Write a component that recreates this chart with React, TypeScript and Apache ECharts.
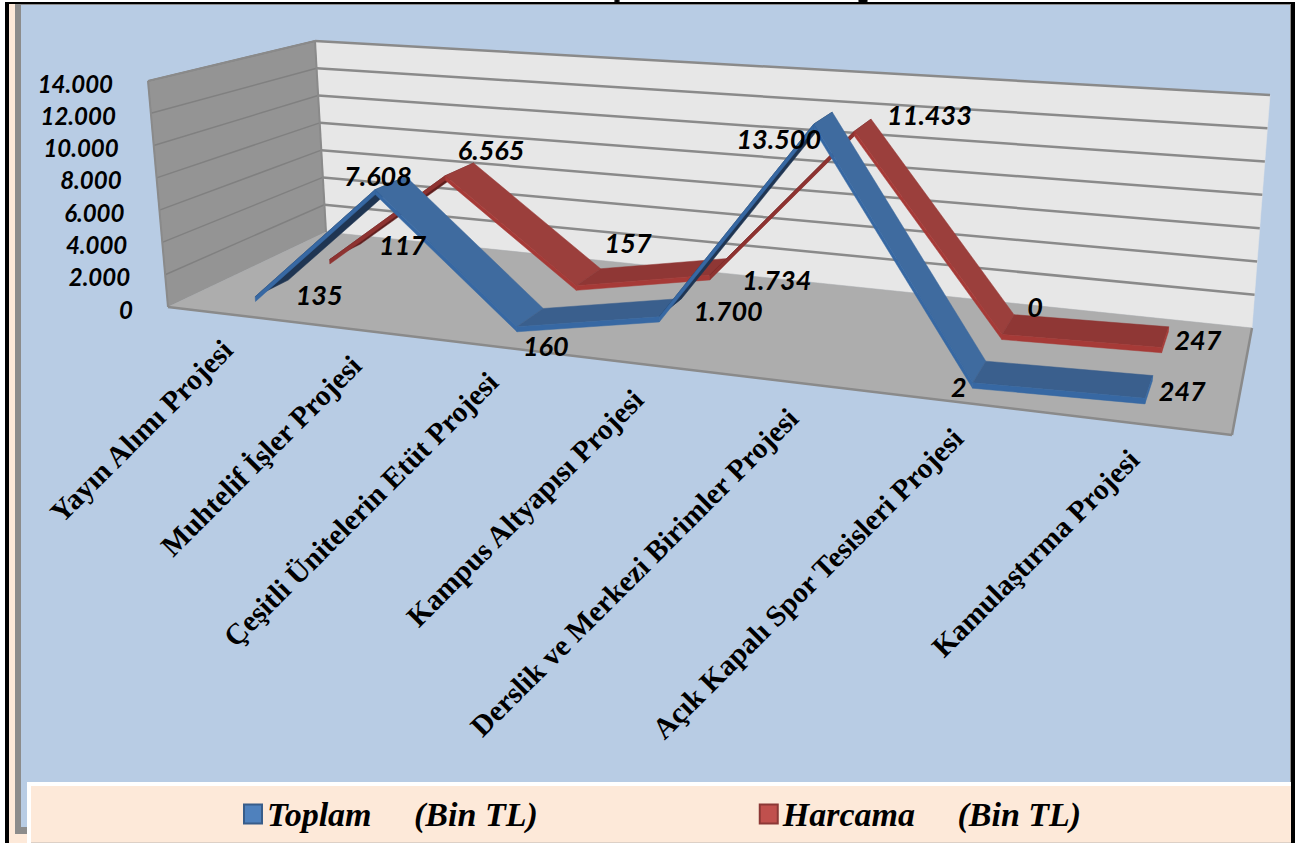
import React, { useEffect, useRef } from "react";
import * as echarts from "echarts";

const categories = [
  "Yayın Alımı Projesi",
  "Muhtelif İşler Projesi",
  "Çeşitli Ünitelerin Etüt Projesi",
  "Kampus Altyapısı Projesi",
  "Derslik ve Merkezi Birimler Projesi",
  "Açık Kapalı Spor Tesisleri Projesi",
  "Kamulaştırma Projesi",
];
const toplam = [135, 7608, 160, 1700, 13500, 2, 247];
const harcama = [117, 6565, 157, 1734, 11433, 0, 247];
const yTicks = [0, 2000, 4000, 6000, 8000, 10000, 12000, 14000];

const toplamLabelOffset = [[64, -2], [3, -14], [29, 19], [69, -6], [-35, 14], [-14, 4], [37, -8]];
const harcamaLabelOffset = [[73, -15], [46, -26], [52, -43], [67, 4], [75, -17], [33, -28], [36, -8]];

const GRID = { left: 100, top: 100, width: 700, height: 560 };
const THICK = 300;
const VALUE_FONT = "Lato";
const CAT_FONT = "Liberation Serif";

type P = number[];
function homography(p00: P, p10: P, p11: P, p01: P) {
  const [x0, y0] = p00, [x1, y1] = p10, [x2, y2] = p11, [x3, y3] = p01;
  const dx1 = x1 - x2, dx2 = x3 - x2, sx = x0 - x1 + x2 - x3;
  const dy1 = y1 - y2, dy2 = y3 - y2, sy = y0 - y1 + y2 - y3;
  const den = dx1 * dy2 - dx2 * dy1;
  const g = (sx * dy2 - dx2 * sy) / den;
  const h = (dx1 * sy - sx * dy1) / den;
  const a = x1 - x0 + g * x1, b = x3 - x0 + h * x3;
  const d = y1 - y0 + g * y1, e = y3 - y0 + h * y3;
  return (u: number, v: number): P => {
    const w = g * u + h * v + 1;
    return [(a * u + b * v + x0) / w, (d * u + e * v + y0) / w];
  };
}
const floorMap = homography([168, 307], [1232, 435], [1252, 328], [326, 232]);
const topMap = homography([148, 81], [1262, 158], [1270, 95], [315, 41]);
const FLOOR_WARP = 0.04;
const TOP_WARP = -0.005;
const COLUMN_SHIFT = 0.0055;

function project(fx: number, t: number, z: number): P {
  const f = floorMap(fx - FLOOR_WARP * fx * (1 - fx), z);
  const c = topMap(fx - TOP_WARP * fx * (1 - fx), z);
  return [f[0] + (c[0] - f[0]) * t, f[1] + (c[1] - f[1]) * t];
}
function projectValue(api: any, i: number, v: number, z: number): P {
  const c = api.coord([i, v]);
  const fx = (c[0] - GRID.left) / GRID.width;
  return project(fx - COLUMN_SHIFT * (1 - 0.9 * fx), (GRID.top + GRID.height - c[1]) / GRID.height, z);
}
function fmt(v: number): string {
  return String(v).replace(/\B(?=(\d{3})+(?!\d))/g, ".");
}
function poly(points: P[], fill: string) {
  return { type: "polygon", shape: { points }, style: { fill, stroke: fill, lineWidth: 0.5 } };
}
function line(a: P, b: P, stroke: string, lineWidth: number) {
  return { type: "line", shape: { x1: a[0], y1: a[1], x2: b[0], y2: b[1] }, style: { stroke, lineWidth } };
}

const renderFrame = (_p: any, api: any) => {
  const children: any[] = [];
  const corner = (x: number, t: number, z: number) => project(x, t, z);
  children.push(poly([corner(0, 0, 1), corner(1, 0, 1), corner(1, 1, 1), corner(0, 1, 1)], "#E7E7E7"));
  children.push(poly([corner(0, 0, 0), corner(0, 0, 1), corner(0, 1, 1), corner(0, 1, 0)], "#949494"));
  children.push(poly([corner(0, 0, 0), corner(1, 0, 0), corner(1, 0, 1), corner(0, 0, 1)], "#ADADAD"));
  yTicks.forEach((tick) => {
    const c = api.coord([0, tick]);
    const t = (GRID.top + GRID.height - c[1]) / GRID.height;
    if (tick > 0) {
      children.push(line(project(0, t, 1), project(1, t, 1), "#8A8A8A", 2.5));
      children.push(line(project(0, t, 0), project(0, t, 1), "#808080", 1.5));
    }
  });
  children.push(line(corner(0, 0, 0), corner(1, 0, 0), "#8A8A8A", 2.5));
  children.push(line(corner(1, 0, 0), corner(1, 0, 1), "#8A8A8A", 2.5));
  children.push(line(corner(0, 0, 0), corner(0, 1, 0), "#8A8A8A", 2));
  children.push(line(corner(0, 1, 0), corner(0, 1, 1), "#8A8A8A", 2));
  children.push(line(corner(0, 0, 1), corner(0, 1, 1), "#8A8A8A", 2));
  return { type: "group", children };
};

function ribbon(values: number[], z1: number, z2: number, c: { up: string; down: string; flat: string; lip: string; upLip: string }) {
  return (params: any, api: any) => {
    const i = params.dataIndex;
    const v0 = values[i];
    if (i >= values.length - 1) return { type: "group", children: [] };
    const v1 = values[i + 1];
    const A = projectValue(api, i, v0, z1), B = projectValue(api, i + 1, v1, z1);
    const C = projectValue(api, i + 1, v1, z2), D = projectValue(api, i, v0, z2);
    const A2 = projectValue(api, i, v0 - THICK, z1), B2 = projectValue(api, i + 1, v1 - THICK, z1);
    const rising = v1 - v0 > 3000;
    const fill = rising ? c.up : v0 - v1 > 3000 ? c.down : c.flat;
    const children: any[] = [poly([A, B, C, D], fill), poly([A, B, B2, A2], rising ? c.upLip : c.lip)];
    if (i === values.length - 2) {
      const C2 = projectValue(api, i + 1, v1 - THICK, z2);
      children.push(poly([B, C, C2, B2], c.lip));
    }
    return { type: "group", children };
  };
}

function valueLabels(values: number[], offsets: number[][], z: number) {
  return (params: any, api: any) => {
    const i = params.dataIndex;
    const p = projectValue(api, i, values[i], z);
    return {
      type: "text",
      x: p[0] + offsets[i][0],
      y: p[1] + offsets[i][1],
      style: {
        text: fmt(values[i]),
        fill: "#000",
        font: `italic bold 27px ${VALUE_FONT}`,
        textAlign: "center",
        textVerticalAlign: "middle",
      },
    };
  };
}

const renderAxisText = (params: any, api: any) => {
  const tick = yTicks[params.dataIndex];
  const c = api.coord([0, tick]);
  const t = (GRID.top + GRID.height - c[1]) / GRID.height;
  const q = project(0, t, 0);
  return {
    type: "text",
    x: q[0] - 35,
    y: q[1] + 2,
    style: {
      text: fmt(tick),
      fill: "#000",
      font: `italic bold 24px ${VALUE_FONT}`,
      textAlign: "right",
      textVerticalAlign: "middle",
    },
  };
};

const renderCategory = (params: any, api: any) => {
  const i = params.dataIndex;
  const p = projectValue(api, i, 0, 0);
  return {
    type: "text",
    x: p[0] - 1 + (3 - i),
    y: p[1] + 31,
    rotation: Math.PI / 4,
    style: {
      text: categories[i],
      fill: "#000",
      font: `bold 29.5px ${CAT_FONT}`,
      textAlign: "right",
      textVerticalAlign: "middle",
    },
  };
};

const blueStyle = { up: "#1F3552", down: "#3F6B9F", flat: "#3A5F8D", lip: "#3768A3", upLip: "#3768A3" };
const redStyle = { up: "#5F1F1E", down: "#9B3F3C", flat: "#8F3735", lip: "#A63A37", upLip: "#8E3331" };

const Z_BLUE: [number, number] = [0.175, 0.38];
const Z_RED: [number, number] = [0.655, 0.875];

function ribbonData(values: number[]) {
  return values.map((v, i) => [i, v]);
}
const baseCustom = {
  type: "custom",
  coordinateSystem: "cartesian2d",
  clip: false,
  silent: true,
};

export default function App() {
  const ref = useRef<HTMLDivElement>(null);
  useEffect(() => {
    document.body.style.margin = "0";
    const chart = echarts.init(ref.current!, undefined, { renderer: "svg" });
    chart.setOption({
      animation: false,
      backgroundColor: "#fff",
      grid: { ...GRID, show: false },
      xAxis: { type: "category", data: categories, show: false },
      yAxis: { type: "value", min: 0, max: 14000, interval: 2000, show: false },
      legend: {
        left: 243,
        top: 797,
        padding: 0,
        itemWidth: 18,
        itemHeight: 19,
        itemGap: 221,
        icon: "rect",
        data: ["Toplam     (Bin TL)", "Harcama     (Bin TL)"],
        textStyle: { fontFamily: CAT_FONT, fontWeight: "bold", fontStyle: "italic", fontSize: 34, color: "#000" },
      },
      graphic: [
        { type: "rect", z: -10, shape: { x: 5, y: 2, width: 1290, height: 841 }, style: { fill: "#000" } },
        { type: "rect", z: -9, shape: { x: 9, y: 4, width: 1282, height: 839 }, style: { fill: "#FDE9D9" } },
        { type: "rect", z: -8, shape: { x: 15, y: 4, width: 1276, height: 830 }, style: { fill: "#8C8C8C" } },
        { type: "rect", z: -7, shape: { x: 21, y: 5, width: 1269, height: 822 }, style: { fill: "#B8CCE4" } },
        { type: "rect", z: -6, shape: { x: 27, y: 782, width: 1264, height: 61 }, style: { fill: "#fff" } },
        { type: "rect", z: -5, shape: { x: 31, y: 786, width: 1260, height: 56 }, style: { fill: "#FDE9D9" } },
        { type: "rect", z: -4, shape: { x: 31, y: 842, width: 1260, height: 1 }, style: { fill: "#DDD0C6" } },
        { type: "ellipse", z: -3, shape: { cx: 617, cy: 1, rx: 3, ry: 1 }, style: { fill: "#000" } },
        { type: "ellipse", z: -3, shape: { cx: 863, cy: 1, rx: 5, ry: 1.5 }, style: { fill: "#000" } },
      ],
      series: [
        { ...baseCustom, name: "frame", z: 2, data: [[0, 0]], renderItem: renderFrame },
        {
          ...baseCustom,
          name: "Harcama     (Bin TL)",
          z: 3,
          data: ribbonData(harcama),
          itemStyle: { color: "#C0504D", borderColor: "#8C3836", borderWidth: 1.5 },
          renderItem: ribbon(harcama, Z_RED[0], Z_RED[1], redStyle),
        },
        {
          ...baseCustom,
          name: "Toplam     (Bin TL)",
          z: 4,
          data: ribbonData(toplam),
          itemStyle: { color: "#4F81BD", borderColor: "#385D8A", borderWidth: 1.5 },
          renderItem: ribbon(toplam, Z_BLUE[0], Z_BLUE[1], blueStyle),
        },
        { ...baseCustom, name: "toplamLabels", z: 6, data: ribbonData(toplam), renderItem: valueLabels(toplam, toplamLabelOffset, Z_BLUE[0]) },
        { ...baseCustom, name: "harcamaLabels", z: 6, data: ribbonData(harcama), renderItem: valueLabels(harcama, harcamaLabelOffset, Z_RED[0]) },
        { ...baseCustom, name: "axisLabels", z: 6, data: yTicks.map((t, i) => [i, t]), renderItem: renderAxisText },
        { ...baseCustom, name: "categoryLabels", z: 6, data: categories.map((_, i) => [i, 0]), renderItem: renderCategory },
      ],
    });
    return () => chart.dispose();
  }, []);
  return <div ref={ref} style={{ position: "absolute", left: 0, top: 0, width: 1307, height: 843 }} />;
}
